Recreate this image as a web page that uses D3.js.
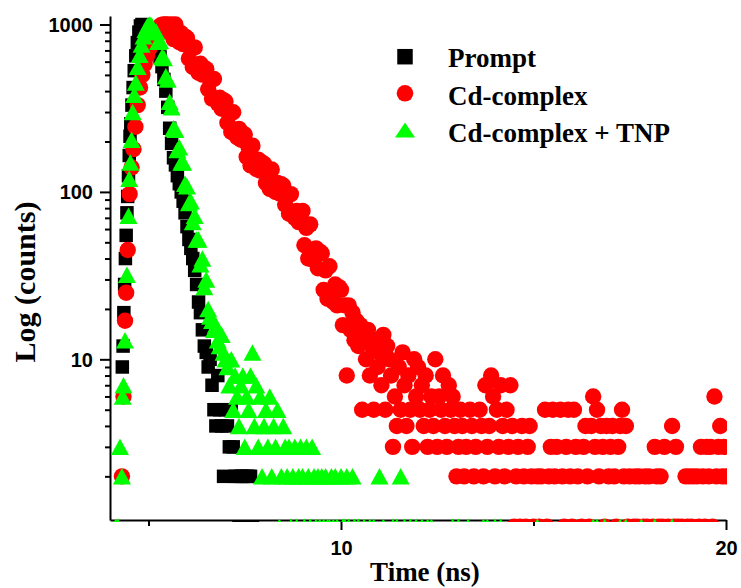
<!DOCTYPE html>
<html>
<head>
<meta charset="utf-8">
<script src="https://cdn.jsdelivr.net/npm/d3@7"></script>
<style>
  body { margin: 0; background: #fff; }
  .tick-label { font-family: 'Liberation Sans', Arial, sans-serif; font-weight: bold; font-size: 20px; fill: #000; }
  .title { font-family: 'Liberation Serif', 'Times New Roman', serif; font-weight: bold; fill: #000; }
</style>
</head>
<body>
<script>
'use strict';

// decay curves, [time (ns), counts]; zero-count channels left out (not drawable on a log axis)
const promptData = [
  [4.32,9],[4.34,12],[4.36,19],[4.38,28],[4.40,40],[4.42,55],[4.44,75],[4.46,94],[4.48,125],[4.50,165],
  [4.52,215],[4.54,255],[4.57,330],[4.60,420],[4.63,530],[4.67,650],[4.71,780],[4.75,900],[4.79,980],[4.83,1000],
  [4.87,995],[4.91,975],[4.95,950],[5.00,925],[5.05,900],[5.10,870],[5.15,835],[5.20,800],[5.25,720],[5.30,640],
  [5.35,560],[5.40,470],[5.45,400],[5.50,320],[5.55,240],[5.60,195],[5.65,160],[5.70,145],[5.75,125],[5.80,112],
  [5.85,100],[5.90,88],[5.95,75],[6.00,62],[6.05,52],[6.10,46],[6.15,40],[6.20,34],[6.25,28],[6.30,22],
  [6.35,19],[6.40,15],[6.45,12],[6.50,11],[6.55,9],[6.60,10],[6.65,7],[6.70,5],[6.75,4],[6.80,8],
  [6.85,5],[6.90,4],[6.95,2],[7.00,5],[7.05,4],[7.10,3],[7.15,5],[7.20,3],[7.25,2],[7.30,2],
  [7.35,1],[7.40,2],[7.45,2],[7.50,1],[7.55,2],[7.60,2],[7.65,2],[7.70,1]
];

const complexData = [
  [4.31,2],[4.35,6],[4.39,17],[4.42,25],[4.46,45],[4.51,97],[4.56,140],[4.61,180],[4.66,245],[4.72,330],
  [4.78,420],[4.84,500],[4.90,580],[4.96,650],[5.02,720],[5.08,790],[5.14,850],[5.20,910],[5.26,960],[5.32,990],
  [5.38,1000],[5.44,1000],[5.50,1000],[5.55,895],[5.60,1000],[5.65,818],[5.70,1000],[5.75,836],[5.80,783],[5.85,886],
  [5.90,763],[5.95,846],[6.00,830],[6.05,626],[6.10,716],[6.15,557],[6.20,730],[6.25,551],[6.30,516],[6.35,583],
  [6.40,502],[6.45,551],[6.50,541],[6.55,410],[6.60,469],[6.65,361],[6.70,473],[6.75,361],[6.80,338],[6.85,365],
  [6.90,314],[6.95,353],[7.00,347],[7.05,259],[7.10,297],[7.15,228],[7.20,299],[7.25,226],[7.30,212],[7.35,238],
  [7.40,205],[7.45,224],[7.50,220],[7.55,162],[7.60,185],[7.65,144],[7.70,189],[7.75,146],[7.80,137],[7.85,156],
  [7.90,134],[7.95,150],[8.00,147],[8.05,113],[8.10,130],[8.15,104],[8.20,136],[8.25,106],[8.30,100],[8.35,113],
  [8.40,98],[8.45,111],[8.50,109],[8.55,84],[8.60,96],[8.65,74],[8.70,97],[8.75,75],[8.80,70],[8.85,77],
  [8.90,66],[8.95,72],[9.00,77],[9.05,48],[9.10,61],[9.15,40],[9.20,64],[9.25,42],[9.30,39],[9.35,46],
  [9.40,35],[9.45,44],[9.50,43],[9.55,26],[9.60,34],[9.65,23],[9.70,36],[9.75,24],[9.80,22],[9.85,28],
  [9.90,21],[9.95,27],[10.00,26],[10.05,16],[10.10,21],[10.15,8],[10.20,21],[10.25,15],[10.30,19],[10.35,13],
  [10.40,17],[10.45,12],[10.50,16],[10.55,5],[10.60,14],[10.65,10],[10.70,15],[10.75,8],[10.80,12],[10.85,5],
  [10.90,13],[10.95,9],[11.00,11],[11.05,7],[11.10,14],[11.15,5],[11.20,12],[11.25,10],[11.30,8],[11.35,3],
  [11.40,6],[11.45,4],[11.50,9],[11.55,5],[11.60,11],[11.65,7],[11.70,4],[11.75,8],[11.80,5],[11.85,3],
  [11.90,10],[11.95,6],[12.00,9],[12.05,5],[12.10,7],[12.15,4],[12.20,8],[12.25,3],[12.30,5],[12.35,6],
  [12.40,4],[12.45,10],[12.50,3],[12.55,6],[12.60,5],[12.65,8],[12.70,4],[12.75,3],[12.80,7],[12.85,5],
  [12.90,6],[12.95,4],[13.00,2],[13.05,3],[13.10,5],[13.15,4],[13.20,2],[13.25,3],[13.35,5],[13.40,4],
  [13.45,2],[13.50,3],[13.60,5],[13.65,4],[13.70,2],[13.75,7],[13.80,3],[13.85,4],[13.90,8],[13.95,6],
  [14.00,2],[14.05,5],[14.10,3],[14.15,7],[14.20,4],[14.25,2],[14.30,5],[14.35,3],[14.40,7],[14.45,4],
  [14.50,1],[14.55,2],[14.60,3],[14.65,1],[14.70,4],[14.75,2],[14.80,1],[14.85,3],[14.90,4],[14.95,2],
  [15.00,1],[15.10,2],[15.15,1],[15.20,2],[15.30,5],[15.35,1],[15.40,2],[15.45,3],[15.50,5],[15.55,2],
  [15.60,3],[15.70,5],[15.75,2],[15.80,1],[15.85,3],[15.90,5],[15.95,2],[16.00,1],[16.05,5],[16.10,3],
  [16.15,2],[16.25,1],[16.30,3],[16.35,4],[16.40,2],[16.45,1],[16.50,4],[16.55,6],[16.60,3],[16.65,5],
  [16.70,2],[16.75,4],[16.80,3],[16.85,1],[16.90,4],[16.95,2],[17.00,3],[17.05,4],[17.10,2],[17.15,1],
  [17.20,3],[17.25,4],[17.30,5],[17.35,2],[17.40,4],[17.45,1],[17.50,2],[17.60,1],[17.65,2],[17.70,1],
  [17.75,2],[17.85,1],[17.90,2],[17.95,1],[18.00,2],[18.10,1],[18.15,3],[18.20,2],[18.25,1],[18.30,2],
  [18.35,1],[18.40,3],[18.50,1],[18.60,4],[18.65,1],[18.70,3],[18.75,1],[18.85,1],[18.95,2],[19.00,1],
  [19.05,2],[19.10,1],[19.15,2],[19.25,2],[19.30,1],[19.35,3],[19.40,2],[19.45,1],[19.50,3],[19.55,2],
  [19.60,3],[19.65,1],[19.70,6],[19.75,2],[19.80,3],[19.85,4],[19.90,2],[19.95,3],[20.00,2]
];

const tnpData = [
  [4.15,1],[4.21,1],[4.26,3],[4.31,2],[4.33,6],[4.35,7],[4.39,13],[4.44,32],[4.48,72],[4.50,120],
  [4.53,150],[4.56,205],[4.59,300],[4.63,380],[4.67,450],[4.72,560],[4.77,660],[4.82,760],[4.87,850],[4.92,930],
  [4.97,980],[5.02,1000],[5.06,995],[5.10,970],[5.15,900],[5.20,905],[5.25,790],[5.30,800],[5.35,640],[5.40,630],
  [5.45,490],[5.50,470],[5.55,345],[5.60,320],[5.65,240],[5.70,235],[5.75,178],[5.80,185],[5.85,150],[5.90,150],
  [5.95,112],[6.00,108],[6.05,86],[6.10,88],[6.15,66],[6.20,72],[6.25,52],[6.30,52],[6.35,37],[6.40,40],
  [6.45,27],[6.50,30],[6.55,20],[6.60,18],[6.65,17],[6.70,15],[6.75,16],[6.80,13],[6.85,12],[6.90,14],
  [6.95,11],[7.00,10],[7.05,9],[7.10,7],[7.15,10],[7.20,5],[7.25,8],[7.30,6],[7.35,4],[7.40,7],
  [7.45,8],[7.50,3],[7.55,6],[7.60,5],[7.65,8],[7.70,11],[7.75,4],[7.80,7],[7.85,3],[7.90,6],
  [7.95,2],[8.00,4],[8.05,5],[8.10,3],[8.15,6],[8.20,2],[8.25,4],[8.30,3],[8.35,5],[8.40,1],
  [8.45,2],[8.50,4],[8.55,3],[8.60,2],[8.65,3],[8.70,1],[8.75,2],[8.80,3],[8.85,1],[8.90,2],
  [8.95,3],[9.00,2],[9.05,1],[9.10,3],[9.15,2],[9.20,1],[9.25,3],[9.30,2],[9.35,1],[9.40,2],
  [9.45,1],[9.50,2],[9.55,1],[9.60,2],[9.65,1],[9.70,1],[9.75,2],[9.80,1],[9.85,2],[9.90,1],
  [10.00,2],[10.05,1],[10.10,1],[10.15,2],[10.20,1],[10.30,2],[10.35,1],[10.45,1],[10.60,1],[10.75,1],
  [10.85,1],[11.00,2],[11.10,1],[11.35,1],[11.45,1],[11.55,2],[11.65,1],[11.80,1],[11.95,1],[12.10,1],
  [12.25,1],[12.35,1],[12.90,1],[13.05,1],[13.30,1],[13.70,1],[13.80,1],[14.00,1],[14.15,1],[15.10,1],
  [16.55,1],[16.65,1],[16.85,1],[17.25,1],[17.40,1],[17.80,1],[18.15,1],[18.60,1]
];

const seriesNames = ['Prompt', 'Cd-complex', 'Cd-complex + TNP'];
const xTicks = [10, 20];
const xMinorTicks = [5, 15];
const yTicks = [10, 100, 1000];
const yMinorTicks = [2, 3, 4, 5, 6, 7, 8, 9, 20, 30, 40, 50, 60, 70, 80, 90, 200, 300, 400, 500, 600, 700, 800, 900];

const width = 741, height = 588;
const plot = { left: 110, right: 726, top: 16, bottom: 520 };

const x = d3.scaleLinear().domain([4, 20]).range([plot.left, plot.right]);
const y = d3.scaleLog().domain([1.097, 1124]).range([plot.bottom, plot.top]);

const squarePath = s => `M${-s / 2},${-s / 2}h${s}v${s}h${-s}Z`;
const trianglePath = (w, h) => `M0,${-h / 2}L${w / 2},${h / 2}L${-w / 2},${h / 2}Z`;

const styleAxis = g => {
  g.attr('font-family', null).attr('font-size', null);
  g.selectAll('.domain').attr('stroke', '#000').attr('stroke-width', 2);
  g.selectAll('.tick line').attr('stroke', '#000').attr('stroke-width', 2);
};

const appendAxes = node => {
  // x axis
  const gx = node.append('g')
    .attr('transform', `translate(0,${plot.bottom})`)
    .call(d3.axisBottom(x).tickValues(xTicks).tickSize(10).tickSizeOuter(0).tickFormat(d3.format('d')));
  styleAxis(gx);
  gx.selectAll('.tick text')
    .attr('class', 'tick-label')
    .attr('y', 35).attr('dy', null);
  const gxm = node.append('g')
    .attr('transform', `translate(0,${plot.bottom})`)
    .call(d3.axisBottom(x).tickValues(xMinorTicks).tickSize(6).tickFormat(''));
  gxm.select('.domain').remove();
  styleAxis(gxm);

  // y axis
  const gy = node.append('g')
    .attr('transform', `translate(${plot.left},0)`)
    .call(d3.axisLeft(y).tickValues(yTicks).tickSize(10).tickSizeOuter(0).tickFormat(d3.format('d')));
  styleAxis(gy);
  gy.selectAll('.tick text')
    .attr('class', 'tick-label')
    .attr('x', -17).attr('dy', 7);
  const gym = node.append('g')
    .attr('transform', `translate(${plot.left},0)`)
    .call(d3.axisLeft(y).tickValues(yMinorTicks).tickSize(5).tickFormat(''));
  gym.select('.domain').remove();
  styleAxis(gym);

  // titles
  node.append('text')
    .attr('class', 'title')
    .attr('font-size', 27)
    .attr('text-anchor', 'middle')
    .attr('x', 425).attr('y', 581)
    .text('Time (ns)');
  node.append('text')
    .attr('class', 'title')
    .attr('font-size', 30)
    .attr('text-anchor', 'middle')
    .attr('transform', 'translate(35,282) rotate(-90)')
    .text('Log (counts)');
};

const appendSeries = (node, data, kind) => {
  const pts = data.filter(d => d[1] > 0);
  const g = node.append('g').attr('clip-path', 'url(#plotClip)');
  if (kind === 'square') {
    g.selectAll('path').data(pts).join('path')
      .attr('d', squarePath(13.5))
      .attr('transform', d => `translate(${x(d[0])},${y(d[1])})`)
      .attr('fill', '#000');
  } else if (kind === 'circle') {
    g.selectAll('circle').data(pts).join('circle')
      .attr('cx', d => x(d[0])).attr('cy', d => y(d[1]))
      .attr('r', 8.2)
      .attr('fill', '#ff0000');
  } else {
    g.selectAll('path').data(pts).join('path')
      .attr('d', trianglePath(18, 16.5))
      .attr('transform', d => `translate(${x(d[0])},${y(d[1])})`)
      .attr('fill', '#00ff00');
  }
};

const appendLegend = node => {
  const g = node.append('g');
  const rows = [
    { y: 66.5, my: 56.7 },
    { y: 105, my: 93.3 },
    { y: 141.7, my: 130 }
  ];
  g.append('path').attr('d', squarePath(15.5)).attr('transform', `translate(405,${rows[0].my})`).attr('fill', '#000');
  g.append('circle').attr('cx', 405).attr('cy', rows[1].my).attr('r', 8.3).attr('fill', '#ff0000');
  g.append('path').attr('d', trianglePath(20, 15)).attr('transform', `translate(405,${rows[2].my})`).attr('fill', '#00ff00');
  seriesNames.forEach((name, i) => {
    g.append('text')
      .attr('class', 'title')
      .attr('font-size', 27)
      .attr('x', 448).attr('y', rows[i].y)
      .text(name);
  });
};

const svg = d3.select('body').append('svg')
  .attr('width', width).attr('height', height)
  .attr('xmlns', 'http://www.w3.org/2000/svg');

svg.append('rect').attr('width', width).attr('height', height).attr('fill', '#fff');

svg.append('defs').append('clipPath')
  .attr('id', 'plotClip')
  .append('rect')
    .attr('x', plot.left).attr('y', 0)
    .attr('width', plot.right - plot.left + 1)
    .attr('height', plot.bottom + 2);

appendAxes(svg);
appendSeries(svg, promptData, 'square');
appendSeries(svg, complexData, 'circle');
appendSeries(svg, tnpData, 'triangle');
appendLegend(svg);
</script>
</body>
</html>
